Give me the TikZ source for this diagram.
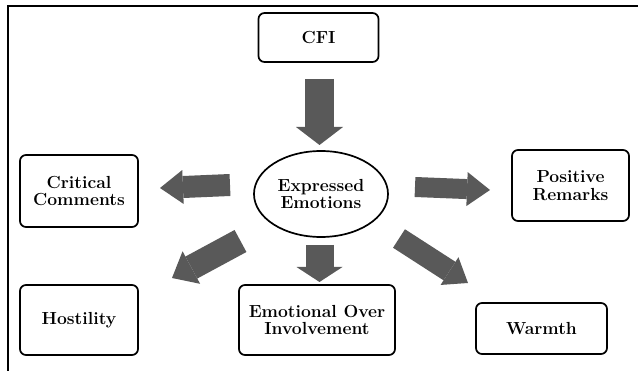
\documentclass[tikz,border=0pt]{standalone}
\usetikzlibrary{arrows.meta,shapes.geometric}
\definecolor{arrowgray}{HTML}{595959}
\begin{document}
\begin{tikzpicture}[x=1pt,y=-1pt,
  txt/.style={align=center, font=\fontsize{17.5}{17.5}\selectfont\bfseries, inner sep=0pt},
  box/.style={txt, draw, line width=1.7pt, rounded corners=6pt},
  bigarrow/.style n args={3}{draw=arrowgray, line width=#1,
    -{Triangle[length=#2,width=#3,line width=0pt]}},
]
\useasboundingbox (0,0) rectangle (638,371);
\draw[line width=2.2pt] (8,371) -- (8,6) -- (638,6);

\node[box, minimum width=120pt, minimum height=49pt] (cfi) at (318.5,37.5) {CFI};
\node[txt, draw, ellipse, line width=1.7pt, minimum width=134pt, minimum height=86pt]
  (ee) at (321,194) {Expressed\\Emotions};
\node[box, minimum width=118pt, minimum height=72pt] (cc) at (79,191) {Critical\\Comments};
\node[box, minimum width=117pt, minimum height=71pt] (pr) at (570.5,185.5) {Positive\\Remarks};
\node[box, minimum width=118pt, minimum height=70pt] (ho) at (79,320) {Hostility};
\node[box, minimum width=156pt, minimum height=70pt] (eoi) at (317,320) {Emotional Over\\Involvement};
\node[box, minimum width=131pt, minimum height=51pt] (wa) at (541.5,328.5) {Warmth};

\coordinate (a1s) at (319.5,79);  \coordinate (a1e) at (319.5,145);
\coordinate (a2s) at (230,185);   \coordinate (a2e) at (160,188);
\coordinate (a3s) at (415,187);   \coordinate (a3e) at (490,190);
\coordinate (a4s) at (240.5,241); \coordinate (a4e) at (172,278);
\coordinate (a5s) at (319.5,245); \coordinate (a5e) at (319.5,282);
\coordinate (a6s) at (399,238.5); \coordinate (a6e) at (468,283);

\draw[bigarrow={29pt}{18pt}{47pt}] (a1s) -- (a1e);
\draw[bigarrow={22pt}{23pt}{34pt}] (a2s) -- (a2e);
\draw[bigarrow={20pt}{23pt}{34pt}] (a3s) -- (a3e);
\draw[bigarrow={25pt}{22pt}{37pt}] (a4s) -- (a4e);
\draw[bigarrow={28pt}{15pt}{46pt}] (a5s) -- (a5e);
\draw[bigarrow={22pt}{22pt}{33pt}] (a6s) -- (a6e);
\end{tikzpicture}
\end{document}
